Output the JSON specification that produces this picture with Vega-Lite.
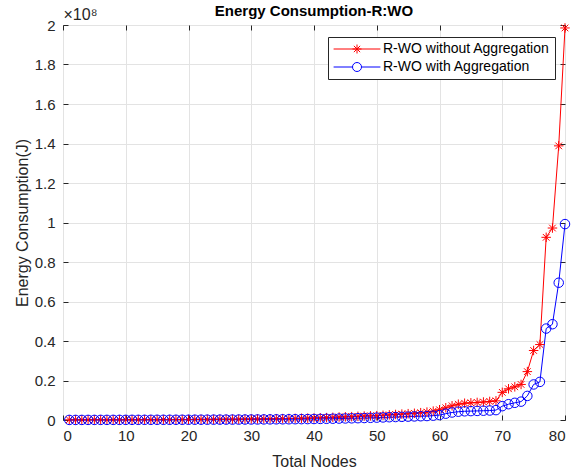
{
  "$schema": "https://vega.github.io/schema/vega-lite/v6.json",
  "width": 502,
  "height": 395,
  "autosize": {"type": "none"},
  "padding": {"left": 63, "top": 25, "right": 6, "bottom": 52},
  "background": "white",
  "config": {
    "font": "Liberation Sans",
    "view": {"stroke": "#262626", "strokeWidth": 1},
    "axis": {
      "domain": false,
      "tickColor": "#262626",
      "labelColor": "#262626",
      "titleColor": "#262626",
      "labelFontSize": 15,
      "titleFontSize": 16,
      "titleFontWeight": "normal",
      "gridColor": "#e3e3e3",
      "gridOpacity": 1,
      "tickSize": -5
    }
  },
  "title": {"text": "Energy Consumption-R:WO", "fontSize": 15, "fontWeight": "bold", "color": "#000000", "baseline": "alphabetic", "offset": -25},
  "resolve": {"axis": {"x": "independent", "y": "independent"}},
  "datasets": {
    "energy": [
      {"n":1,"s":"R-WO without Aggregation","e":0.001},{"n":2,"s":"R-WO without Aggregation","e":0.001},{"n":3,"s":"R-WO without Aggregation","e":0.001},{"n":4,"s":"R-WO without Aggregation","e":0.0012},{"n":5,"s":"R-WO without Aggregation","e":0.0012},{"n":6,"s":"R-WO without Aggregation","e":0.0013},{"n":7,"s":"R-WO without Aggregation","e":0.0013},{"n":8,"s":"R-WO without Aggregation","e":0.0014},{"n":9,"s":"R-WO without Aggregation","e":0.0014},{"n":10,"s":"R-WO without Aggregation","e":0.0015},
      {"n":11,"s":"R-WO without Aggregation","e":0.0016},{"n":12,"s":"R-WO without Aggregation","e":0.0017},{"n":13,"s":"R-WO without Aggregation","e":0.0018},{"n":14,"s":"R-WO without Aggregation","e":0.0019},{"n":15,"s":"R-WO without Aggregation","e":0.002},{"n":16,"s":"R-WO without Aggregation","e":0.0021},{"n":17,"s":"R-WO without Aggregation","e":0.0022},{"n":18,"s":"R-WO without Aggregation","e":0.0023},{"n":19,"s":"R-WO without Aggregation","e":0.0024},{"n":20,"s":"R-WO without Aggregation","e":0.0026},
      {"n":21,"s":"R-WO without Aggregation","e":0.0028},{"n":22,"s":"R-WO without Aggregation","e":0.003},{"n":23,"s":"R-WO without Aggregation","e":0.0032},{"n":24,"s":"R-WO without Aggregation","e":0.0034},{"n":25,"s":"R-WO without Aggregation","e":0.0036},{"n":26,"s":"R-WO without Aggregation","e":0.0038},{"n":27,"s":"R-WO without Aggregation","e":0.004},{"n":28,"s":"R-WO without Aggregation","e":0.0043},{"n":29,"s":"R-WO without Aggregation","e":0.0046},{"n":30,"s":"R-WO without Aggregation","e":0.005},
      {"n":31,"s":"R-WO without Aggregation","e":0.0054},{"n":32,"s":"R-WO without Aggregation","e":0.0058},{"n":33,"s":"R-WO without Aggregation","e":0.0062},{"n":34,"s":"R-WO without Aggregation","e":0.0066},{"n":35,"s":"R-WO without Aggregation","e":0.007},{"n":36,"s":"R-WO without Aggregation","e":0.0075},{"n":37,"s":"R-WO without Aggregation","e":0.008},{"n":38,"s":"R-WO without Aggregation","e":0.0086},{"n":39,"s":"R-WO without Aggregation","e":0.0092},{"n":40,"s":"R-WO without Aggregation","e":0.01},
      {"n":41,"s":"R-WO without Aggregation","e":0.011},{"n":42,"s":"R-WO without Aggregation","e":0.012},{"n":43,"s":"R-WO without Aggregation","e":0.0135},{"n":44,"s":"R-WO without Aggregation","e":0.015},{"n":45,"s":"R-WO without Aggregation","e":0.016},{"n":46,"s":"R-WO without Aggregation","e":0.017},{"n":47,"s":"R-WO without Aggregation","e":0.0185},{"n":48,"s":"R-WO without Aggregation","e":0.02},{"n":49,"s":"R-WO without Aggregation","e":0.021},{"n":50,"s":"R-WO without Aggregation","e":0.022},
      {"n":51,"s":"R-WO without Aggregation","e":0.024},{"n":52,"s":"R-WO without Aggregation","e":0.026},{"n":53,"s":"R-WO without Aggregation","e":0.028},{"n":54,"s":"R-WO without Aggregation","e":0.03},{"n":55,"s":"R-WO without Aggregation","e":0.032},{"n":56,"s":"R-WO without Aggregation","e":0.034},{"n":57,"s":"R-WO without Aggregation","e":0.037},{"n":58,"s":"R-WO without Aggregation","e":0.04},{"n":59,"s":"R-WO without Aggregation","e":0.045},{"n":60,"s":"R-WO without Aggregation","e":0.052},
      {"n":61,"s":"R-WO without Aggregation","e":0.062},{"n":62,"s":"R-WO without Aggregation","e":0.072},{"n":63,"s":"R-WO without Aggregation","e":0.08},{"n":64,"s":"R-WO without Aggregation","e":0.085},{"n":65,"s":"R-WO without Aggregation","e":0.087},{"n":66,"s":"R-WO without Aggregation","e":0.089},{"n":67,"s":"R-WO without Aggregation","e":0.091},{"n":68,"s":"R-WO without Aggregation","e":0.094},{"n":69,"s":"R-WO without Aggregation","e":0.097},{"n":70,"s":"R-WO without Aggregation","e":0.14},
      {"n":71,"s":"R-WO without Aggregation","e":0.158},{"n":72,"s":"R-WO without Aggregation","e":0.168},{"n":73,"s":"R-WO without Aggregation","e":0.18},{"n":74,"s":"R-WO without Aggregation","e":0.245},{"n":75,"s":"R-WO without Aggregation","e":0.352},{"n":76,"s":"R-WO without Aggregation","e":0.382},{"n":77,"s":"R-WO without Aggregation","e":0.925},{"n":78,"s":"R-WO without Aggregation","e":0.972},{"n":79,"s":"R-WO without Aggregation","e":1.388},{"n":80,"s":"R-WO without Aggregation","e":1.985},
      {"n":1,"s":"R-WO with Aggregation","e":0.0005},{"n":2,"s":"R-WO with Aggregation","e":0.0005},{"n":3,"s":"R-WO with Aggregation","e":0.0005},{"n":4,"s":"R-WO with Aggregation","e":0.0006},{"n":5,"s":"R-WO with Aggregation","e":0.0006},{"n":6,"s":"R-WO with Aggregation","e":0.0007},{"n":7,"s":"R-WO with Aggregation","e":0.0007},{"n":8,"s":"R-WO with Aggregation","e":0.0007},{"n":9,"s":"R-WO with Aggregation","e":0.0008},{"n":10,"s":"R-WO with Aggregation","e":0.0008},
      {"n":11,"s":"R-WO with Aggregation","e":0.0009},{"n":12,"s":"R-WO with Aggregation","e":0.0009},{"n":13,"s":"R-WO with Aggregation","e":0.001},{"n":14,"s":"R-WO with Aggregation","e":0.001},{"n":15,"s":"R-WO with Aggregation","e":0.0011},{"n":16,"s":"R-WO with Aggregation","e":0.0011},{"n":17,"s":"R-WO with Aggregation","e":0.0012},{"n":18,"s":"R-WO with Aggregation","e":0.0012},{"n":19,"s":"R-WO with Aggregation","e":0.0013},{"n":20,"s":"R-WO with Aggregation","e":0.0014},
      {"n":21,"s":"R-WO with Aggregation","e":0.0015},{"n":22,"s":"R-WO with Aggregation","e":0.0016},{"n":23,"s":"R-WO with Aggregation","e":0.0017},{"n":24,"s":"R-WO with Aggregation","e":0.0018},{"n":25,"s":"R-WO with Aggregation","e":0.0019},{"n":26,"s":"R-WO with Aggregation","e":0.002},{"n":27,"s":"R-WO with Aggregation","e":0.0021},{"n":28,"s":"R-WO with Aggregation","e":0.0022},{"n":29,"s":"R-WO with Aggregation","e":0.0024},{"n":30,"s":"R-WO with Aggregation","e":0.0025},
      {"n":31,"s":"R-WO with Aggregation","e":0.0027},{"n":32,"s":"R-WO with Aggregation","e":0.0029},{"n":33,"s":"R-WO with Aggregation","e":0.0031},{"n":34,"s":"R-WO with Aggregation","e":0.0033},{"n":35,"s":"R-WO with Aggregation","e":0.0035},{"n":36,"s":"R-WO with Aggregation","e":0.0037},{"n":37,"s":"R-WO with Aggregation","e":0.004},{"n":38,"s":"R-WO with Aggregation","e":0.0043},{"n":39,"s":"R-WO with Aggregation","e":0.0046},{"n":40,"s":"R-WO with Aggregation","e":0.005},
      {"n":41,"s":"R-WO with Aggregation","e":0.0055},{"n":42,"s":"R-WO with Aggregation","e":0.006},{"n":43,"s":"R-WO with Aggregation","e":0.0066},{"n":44,"s":"R-WO with Aggregation","e":0.0072},{"n":45,"s":"R-WO with Aggregation","e":0.0078},{"n":46,"s":"R-WO with Aggregation","e":0.0085},{"n":47,"s":"R-WO with Aggregation","e":0.0092},{"n":48,"s":"R-WO with Aggregation","e":0.01},{"n":49,"s":"R-WO with Aggregation","e":0.011},{"n":50,"s":"R-WO with Aggregation","e":0.012},
      {"n":51,"s":"R-WO with Aggregation","e":0.013},{"n":52,"s":"R-WO with Aggregation","e":0.014},{"n":53,"s":"R-WO with Aggregation","e":0.015},{"n":54,"s":"R-WO with Aggregation","e":0.016},{"n":55,"s":"R-WO with Aggregation","e":0.017},{"n":56,"s":"R-WO with Aggregation","e":0.018},{"n":57,"s":"R-WO with Aggregation","e":0.019},{"n":58,"s":"R-WO with Aggregation","e":0.02},{"n":59,"s":"R-WO with Aggregation","e":0.022},{"n":60,"s":"R-WO with Aggregation","e":0.025},
      {"n":61,"s":"R-WO with Aggregation","e":0.032},{"n":62,"s":"R-WO with Aggregation","e":0.038},{"n":63,"s":"R-WO with Aggregation","e":0.042},{"n":64,"s":"R-WO with Aggregation","e":0.044},{"n":65,"s":"R-WO with Aggregation","e":0.045},{"n":66,"s":"R-WO with Aggregation","e":0.046},{"n":67,"s":"R-WO with Aggregation","e":0.047},{"n":68,"s":"R-WO with Aggregation","e":0.048},{"n":69,"s":"R-WO with Aggregation","e":0.05},{"n":70,"s":"R-WO with Aggregation","e":0.07},
      {"n":71,"s":"R-WO with Aggregation","e":0.08},{"n":72,"s":"R-WO with Aggregation","e":0.087},{"n":73,"s":"R-WO with Aggregation","e":0.093},{"n":74,"s":"R-WO with Aggregation","e":0.122},{"n":75,"s":"R-WO with Aggregation","e":0.18},{"n":76,"s":"R-WO with Aggregation","e":0.193},{"n":77,"s":"R-WO with Aggregation","e":0.463},{"n":78,"s":"R-WO with Aggregation","e":0.485},{"n":79,"s":"R-WO with Aggregation","e":0.695},{"n":80,"s":"R-WO with Aggregation","e":0.992}
    ]
  },
  "data": {"name": "energy"},
  "layer": [
    {
      "mark": {"type": "line", "strokeWidth": 1},
      "encoding": {
        "x": {"field": "n", "type": "quantitative", "scale": {"domain": [0, 80], "nice": false},
          "axis": {"title": "Total Nodes", "values": [0,10,20,30,40,50,60,70,80], "labelPadding": 13, "titleY": 46, "titleBaseline": "alphabetic"}},
        "y": {"field": "e", "type": "quantitative", "scale": {"domain": [0, 2], "nice": false},
          "axis": {"title": "Energy Consumption(J)", "values": [0,0.2,0.4,0.6,0.8,1,1.2,1.4,1.6,1.8,2], "format": "~g", "labelPadding": 13, "titleX": -36, "titleBaseline": "alphabetic"}},
        "color": {"field": "s", "type": "nominal",
          "scale": {"domain": ["R-WO without Aggregation", "R-WO with Aggregation"], "range": ["#ff0000", "#0000ff"]},
          "legend": {
            "title": null, "orient": "none", "legendX": 265, "legendY": 12,
            "strokeColor": "#262626", "fillColor": "white", "padding": 5,
            "labelFontSize": 14, "labelColor": "#000000", "labelLimit": 400, "rowPadding": 4,
            "symbolSize": 81, "symbolStrokeWidth": 1, "symbolOffset": 17, "labelOffset": 19,
            "symbolType": "circle",
            "encode": {"symbols": {"update": {
              "shape": {"signal": "datum.value === 'R-WO without Aggregation' ? 'M-5.2,0L5.2,0M-1,0L1,0M0,-1L0,1M-0.7,-0.7L0.7,0.7M-0.7,0.7L0.7,-0.7' : 'M-5.2,0L-1,0M1,0L5.2,0M1,0A1,1,0,1,1,-1,0A1,1,0,1,1,1,0'"},
              "fill": {"value": "transparent"},
              "strokeWidth": {"value": 1}
            }}}
          }
        }
      }
    },
    {
      "transform": [{"filter": "datum.s === 'R-WO without Aggregation'"}],
      "mark": {"type": "point", "filled": false, "strokeWidth": 1, "opacity": 1, "size": 90, "color": "#ff0000",
        "shape": "M-1,0L1,0M0,-1L0,1M-0.7,-0.7L0.7,0.7M-0.7,0.7L0.7,-0.7"},
      "encoding": {
        "x": {"field": "n", "type": "quantitative",
          "axis": {"orient": "top", "labels": false, "grid": false, "values": [0,10,20,30,40,50,60,70,80], "title": "×10⁸", "titleAnchor": "start", "titleAlign": "left", "titleX": 0, "titleY": -6, "titleFontSize": 16, "titleBaseline": "alphabetic"}},
        "y": {"field": "e", "type": "quantitative",
          "axis": {"orient": "right", "labels": false, "grid": false, "title": null, "values": [0,0.2,0.4,0.6,0.8,1,1.2,1.4,1.6,1.8,2]}}
      }
    },
    {
      "transform": [{"filter": "datum.s === 'R-WO with Aggregation'"}],
      "mark": {"type": "point", "filled": false, "strokeWidth": 1, "opacity": 1, "size": 90, "color": "#0000ff", "shape": "circle"},
      "encoding": {
        "x": {"field": "n", "type": "quantitative", "axis": null},
        "y": {"field": "e", "type": "quantitative", "axis": null}
      }
    }
  ]
}
